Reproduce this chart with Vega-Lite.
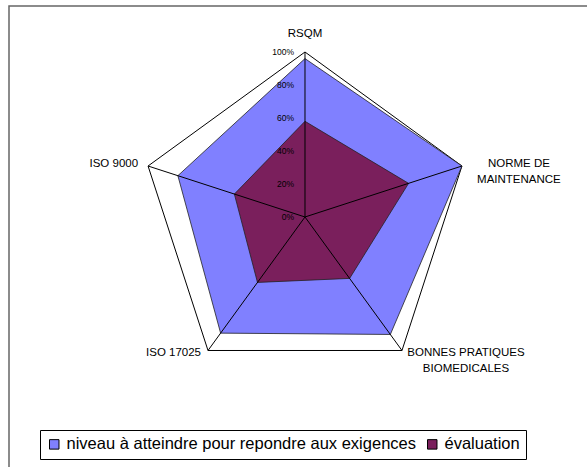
{
  "$schema": "https://vega.github.io/schema/vega-lite/v6.json",
  "autosize": "none",
  "padding": {"left": 9, "top": 6, "right": 0, "bottom": 0},
  "width": 580,
  "height": 463,
  "background": "white",
  "config": {
    "view": {"stroke": "#666666", "strokeWidth": 1.5},
    "font": "Liberation Sans",
    "legend": {
      "orient": "none",
      "legendX": 31,
      "legendY": 424,
      "direction": "horizontal",
      "strokeColor": "#000000",
      "padding": 6,
      "symbolType": "square",
      "symbolSize": 90,
      "symbolStrokeColor": "#000000",
      "symbolStrokeWidth": 1,
      "labelFontSize": 16.5,
      "labelFont": "Liberation Sans",
      "labelColor": "#000000",
      "labelLimit": 600,
      "columnPadding": 8,
      "labelOffset": 4
    }
  },
  "datasets": {
    "series": [
      {"axis": "RSQM", "serie": "niveau à atteindre pour repondre aux exigences", "value": 96},
      {"axis": "NORME DE MAINTENANCE", "serie": "niveau à atteindre pour repondre aux exigences", "value": 100},
      {"axis": "BONNES PRATIQUES BIOMEDICALES", "serie": "niveau à atteindre pour repondre aux exigences", "value": 88},
      {"axis": "ISO 17025", "serie": "niveau à atteindre pour repondre aux exigences", "value": 87},
      {"axis": "ISO 9000", "serie": "niveau à atteindre pour repondre aux exigences", "value": 81},
      {"axis": "RSQM", "serie": "évaluation", "value": 58},
      {"axis": "NORME DE MAINTENANCE", "serie": "évaluation", "value": 66},
      {"axis": "BONNES PRATIQUES BIOMEDICALES", "serie": "évaluation", "value": 46},
      {"axis": "ISO 17025", "serie": "évaluation", "value": 49},
      {"axis": "ISO 9000", "serie": "évaluation", "value": 45}
    ],
    "axes": [
      {"axis": "RSQM", "label": "RSQM", "value": 100},
      {"axis": "NORME DE MAINTENANCE", "label": "NORME DE\nMAINTENANCE", "value": 100},
      {"axis": "BONNES PRATIQUES BIOMEDICALES", "label": "BONNES PRATIQUES\nBIOMEDICALES", "value": 100},
      {"axis": "ISO 17025", "label": "ISO 17025", "value": 100},
      {"axis": "ISO 9000", "label": "ISO 9000", "value": 100}
    ],
    "ticks": [
      {"t": 0, "lab": "0%"},
      {"t": 20, "lab": "20%"},
      {"t": 40, "lab": "40%"},
      {"t": 60, "lab": "60%"},
      {"t": 80, "lab": "80%"},
      {"t": 100, "lab": "100%"}
    ]
  },
  "encoding": {
    "x": {"field": "x", "type": "quantitative", "scale": {"domain": [-179.39, 172.12], "nice": false, "zero": false}, "axis": null},
    "y": {"field": "y", "type": "quantitative", "scale": {"domain": [-152.73, 127.88], "nice": false, "zero": false}, "axis": null}
  },
  "layer": [
    {
      "data": {"name": "axes"},
      "transform": [
        {"calculate": "indexof(['RSQM','NORME DE MAINTENANCE','BONNES PRATIQUES BIOMEDICALES','ISO 17025','ISO 9000'], datum.axis)", "as": "idx"},
        {"calculate": "datum.value * sin(datum.idx * 2 * PI / 5)", "as": "x"},
        {"calculate": "datum.value * cos(datum.idx * 2 * PI / 5)", "as": "y"}
      ],
      "mark": {"type": "line", "interpolate": "linear-closed", "fill": "#ffffff", "stroke": "#000000", "strokeWidth": 1},
      "encoding": {"order": {"field": "idx", "type": "quantitative"}}
    },
    {
      "data": {"name": "series"},
      "transform": [
        {"filter": "datum.serie === 'niveau à atteindre pour repondre aux exigences'"},
        {"calculate": "indexof(['RSQM','NORME DE MAINTENANCE','BONNES PRATIQUES BIOMEDICALES','ISO 17025','ISO 9000'], datum.axis)", "as": "idx"},
        {"calculate": "datum.value * sin(datum.idx * 2 * PI / 5)", "as": "x"},
        {"calculate": "datum.value * cos(datum.idx * 2 * PI / 5)", "as": "y"}
      ],
      "mark": {"type": "line", "interpolate": "linear-closed", "stroke": "#222222", "strokeWidth": 0.8},
      "encoding": {
        "order": {"field": "idx", "type": "quantitative"},
        "fill": {"field": "serie", "type": "nominal", "title": null,
          "scale": {"domain": ["niveau à atteindre pour repondre aux exigences", "évaluation"], "range": ["#8080ff", "#7a1f5c"]}}
      }
    },
    {
      "data": {"name": "series"},
      "transform": [
        {"filter": "datum.serie === 'évaluation'"},
        {"calculate": "indexof(['RSQM','NORME DE MAINTENANCE','BONNES PRATIQUES BIOMEDICALES','ISO 17025','ISO 9000'], datum.axis)", "as": "idx"},
        {"calculate": "datum.value * sin(datum.idx * 2 * PI / 5)", "as": "x"},
        {"calculate": "datum.value * cos(datum.idx * 2 * PI / 5)", "as": "y"}
      ],
      "mark": {"type": "line", "interpolate": "linear-closed", "stroke": "#222222", "strokeWidth": 0.8},
      "encoding": {
        "order": {"field": "idx", "type": "quantitative"},
        "fill": {"field": "serie", "type": "nominal", "title": null,
          "scale": {"domain": ["niveau à atteindre pour repondre aux exigences", "évaluation"], "range": ["#8080ff", "#7a1f5c"]}}
      }
    },
    {
      "data": {"name": "axes"},
      "transform": [
        {"calculate": "indexof(['RSQM','NORME DE MAINTENANCE','BONNES PRATIQUES BIOMEDICALES','ISO 17025','ISO 9000'], datum.axis)", "as": "idx"},
        {"calculate": "datum.value * sin(datum.idx * 2 * PI / 5)", "as": "x"},
        {"calculate": "datum.value * cos(datum.idx * 2 * PI / 5)", "as": "y"}
      ],
      "mark": {"type": "rule", "stroke": "#000000", "strokeWidth": 1},
      "encoding": {"x2": {"datum": 0}, "y2": {"datum": 0}}
    },
    {
      "data": {"name": "ticks"},
      "transform": [
        {"calculate": "0", "as": "x"},
        {"calculate": "datum.t", "as": "y"}
      ],
      "mark": {"type": "text", "align": "right", "baseline": "middle", "dx": -11, "fontSize": 8.5, "fill": "#000000"},
      "encoding": {
        "text": {"field": "lab", "type": "nominal"}
      }
    },
    {
      "data": {"name": "axes"},
      "transform": [
        {"filter": "datum.axis === 'RSQM'"},
        {"calculate": "indexof(['RSQM','NORME DE MAINTENANCE','BONNES PRATIQUES BIOMEDICALES','ISO 17025','ISO 9000'], datum.axis)", "as": "idx"},
        {"calculate": "datum.value * sin(datum.idx * 2 * PI / 5)", "as": "x"},
        {"calculate": "datum.value * cos(datum.idx * 2 * PI / 5)", "as": "y"}
      ],
      "mark": {"type": "text", "align": "center", "baseline": "middle", "dy": -18, "fontSize": 11.5, "color": "#000000"},
      "encoding": {"text": {"field": "label"}}
    },
    {
      "data": {"name": "axes"},
      "transform": [
        {"filter": "datum.axis === 'NORME DE MAINTENANCE'"},
        {"calculate": "indexof(['RSQM','NORME DE MAINTENANCE','BONNES PRATIQUES BIOMEDICALES','ISO 17025','ISO 9000'], datum.axis)", "as": "idx"},
        {"calculate": "datum.value * sin(datum.idx * 2 * PI / 5)", "as": "x"},
        {"calculate": "datum.value * cos(datum.idx * 2 * PI / 5)", "as": "y"}
      ],
      "mark": {"type": "text", "align": "center", "baseline": "middle", "dx": 57, "dy": -2, "fontSize": 11.5, "lineHeight": 16, "lineBreak": "\n", "color": "#000000"},
      "encoding": {"text": {"field": "label"}}
    },
    {
      "data": {"name": "axes"},
      "transform": [
        {"filter": "datum.axis === 'BONNES PRATIQUES BIOMEDICALES'"},
        {"calculate": "indexof(['RSQM','NORME DE MAINTENANCE','BONNES PRATIQUES BIOMEDICALES','ISO 17025','ISO 9000'], datum.axis)", "as": "idx"},
        {"calculate": "datum.value * sin(datum.idx * 2 * PI / 5)", "as": "x"},
        {"calculate": "datum.value * cos(datum.idx * 2 * PI / 5)", "as": "y"}
      ],
      "mark": {"type": "text", "align": "center", "baseline": "middle", "dx": 64, "dy": 3, "fontSize": 11.5, "lineHeight": 16, "lineBreak": "\n", "color": "#000000"},
      "encoding": {"text": {"field": "label"}}
    },
    {
      "data": {"name": "axes"},
      "transform": [
        {"filter": "datum.axis === 'ISO 17025'"},
        {"calculate": "indexof(['RSQM','NORME DE MAINTENANCE','BONNES PRATIQUES BIOMEDICALES','ISO 17025','ISO 9000'], datum.axis)", "as": "idx"},
        {"calculate": "datum.value * sin(datum.idx * 2 * PI / 5)", "as": "x"},
        {"calculate": "datum.value * cos(datum.idx * 2 * PI / 5)", "as": "y"}
      ],
      "mark": {"type": "text", "align": "right", "baseline": "middle", "dx": -7, "dy": 3, "fontSize": 11.5, "color": "#000000"},
      "encoding": {"text": {"field": "label"}}
    },
    {
      "data": {"name": "axes"},
      "transform": [
        {"filter": "datum.axis === 'ISO 9000'"},
        {"calculate": "indexof(['RSQM','NORME DE MAINTENANCE','BONNES PRATIQUES BIOMEDICALES','ISO 17025','ISO 9000'], datum.axis)", "as": "idx"},
        {"calculate": "datum.value * sin(datum.idx * 2 * PI / 5)", "as": "x"},
        {"calculate": "datum.value * cos(datum.idx * 2 * PI / 5)", "as": "y"}
      ],
      "mark": {"type": "text", "align": "right", "baseline": "middle", "dx": -10, "dy": -2, "fontSize": 11.5, "color": "#000000"},
      "encoding": {"text": {"field": "label"}}
    }
  ]
}
